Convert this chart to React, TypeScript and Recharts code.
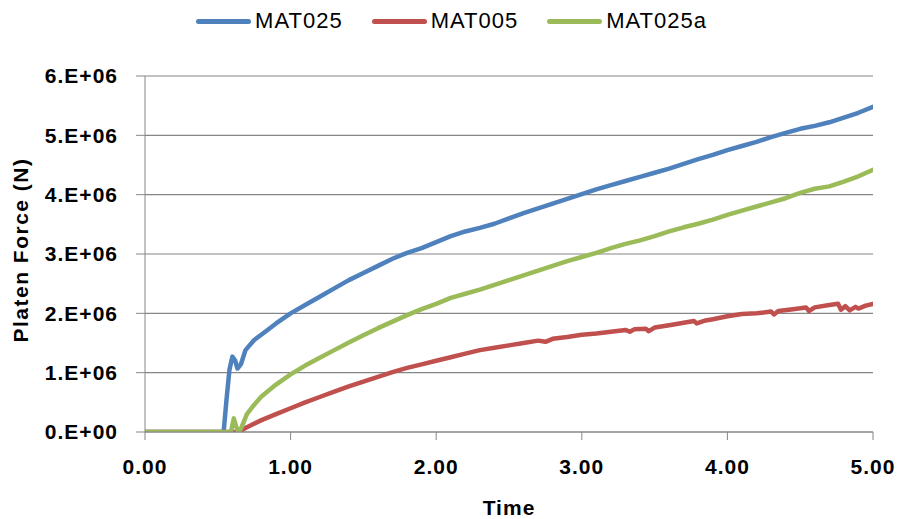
import React from "react";
import {
  LineChart,
  Line,
  XAxis,
  YAxis,
  CartesianGrid,
  Legend,
} from "recharts";

// time (s) / platen force (x1e6 N)
const mat025Time = [
  0, 0.54, 0.56, 0.58, 0.6, 0.62, 0.635, 0.66, 0.69, 0.75, 0.81, 0.9, 1.0,
  1.1, 1.2, 1.3, 1.4, 1.5, 1.6, 1.7, 1.8, 1.9, 2.0, 2.1, 2.2, 2.3, 2.4, 2.5,
  2.6, 2.7, 2.8, 2.9, 3.0, 3.1, 3.2, 3.3, 3.4, 3.5, 3.6, 3.7, 3.8, 3.9, 4.0,
  4.1, 4.2, 4.3, 4.4, 4.5, 4.6, 4.7, 4.8, 4.9, 5.0,
];
const mat025Force = [
  0, 0, 0.55, 1.05, 1.27, 1.2, 1.07, 1.15, 1.38, 1.55, 1.66, 1.83, 2.0,
  2.14, 2.28, 2.42, 2.56, 2.68, 2.8, 2.92, 3.02, 3.1, 3.2, 3.3, 3.38, 3.44,
  3.51, 3.6, 3.69, 3.77, 3.85, 3.93, 4.01, 4.09, 4.16, 4.23, 4.3, 4.37, 4.44,
  4.52, 4.6, 4.67, 4.75, 4.82, 4.89, 4.97, 5.04, 5.11, 5.16, 5.22, 5.3, 5.38,
  5.48,
];

const mat005Time = [
  0, 0.64, 0.7, 0.8, 0.9, 1.0, 1.1, 1.2, 1.3, 1.4, 1.5, 1.6, 1.7, 1.8, 1.9,
  2.0, 2.1, 2.2, 2.3, 2.4, 2.5, 2.6, 2.7, 2.75, 2.8, 2.9, 3.0, 3.1, 3.2, 3.3,
  3.33, 3.36, 3.44, 3.46, 3.5, 3.6, 3.7, 3.77, 3.79, 3.85, 3.9, 4.0, 4.1,
  4.2, 4.3, 4.32, 4.35, 4.45, 4.54, 4.56, 4.6, 4.7, 4.76, 4.78, 4.81, 4.84,
  4.88, 4.9, 4.95, 5.0,
];
const mat005Force = [
  0, 0, 0.08, 0.2, 0.3, 0.4, 0.5, 0.59, 0.68, 0.77, 0.85, 0.93, 1.01, 1.08,
  1.14, 1.2, 1.26, 1.32, 1.38, 1.42, 1.46, 1.5, 1.54, 1.52, 1.57, 1.6, 1.64,
  1.66, 1.69, 1.72, 1.69, 1.73, 1.74, 1.7, 1.76, 1.8, 1.84, 1.87, 1.83,
  1.88, 1.9, 1.95, 1.99, 2.0, 2.03, 1.98, 2.04, 2.07, 2.1, 2.04, 2.1, 2.14,
  2.16, 2.06, 2.12, 2.05, 2.11, 2.08, 2.13, 2.16,
];

const mat025aTime = [
  0, 0.59, 0.61, 0.625, 0.64, 0.66, 0.7, 0.74, 0.8, 0.9, 1.0, 1.1, 1.2, 1.3,
  1.4, 1.5, 1.6, 1.7, 1.8, 1.9, 2.0, 2.1, 2.2, 2.3, 2.4, 2.5, 2.6, 2.7, 2.8,
  2.9, 3.0, 3.1, 3.2, 3.3, 3.4, 3.5, 3.6, 3.7, 3.8, 3.9, 4.0, 4.1, 4.2, 4.3,
  4.4, 4.5, 4.6, 4.7, 4.8, 4.9, 5.0,
];
const mat025aForce = [
  0, 0, 0.23, 0.1, 0, 0.06, 0.3, 0.43, 0.6, 0.8, 0.97, 1.12, 1.25, 1.38,
  1.51, 1.63, 1.75, 1.86, 1.97, 2.07, 2.16, 2.26, 2.33, 2.4, 2.48, 2.56,
  2.64, 2.72, 2.8, 2.88, 2.95, 3.02, 3.1, 3.17, 3.23, 3.3, 3.38, 3.45, 3.51,
  3.58, 3.66, 3.73, 3.8, 3.87, 3.94, 4.03, 4.1, 4.14, 4.22, 4.31, 4.42,
];

const xTicks = [0, 1, 2, 3, 4, 5];
const yTicks = [0, 1e6, 2e6, 3e6, 4e6, 5e6, 6e6];

const toRows = (time: number[], force: number[]) =>
  time.map((t, i) => ({ time: t, force: force[i] * 1e6 }));

const series = [
  { name: "MAT025", color: "#4F81BD", data: toRows(mat025Time, mat025Force) },
  { name: "MAT005", color: "#C0504D", data: toRows(mat005Time, mat005Force) },
  { name: "MAT025a", color: "#9BBB59", data: toRows(mat025aTime, mat025aForce) },
];

const FONT = '"Liberation Sans", Arial, sans-serif';
const AXIS = "#868686";

const tickStyle = {
  fontFamily: FONT,
  fontSize: 21,
  fontWeight: 700,
  fill: "#000",
  letterSpacing: 1,
};

const formatForce = (v: number) =>
  v === 0 ? "0.E+00" : `${Math.round(v / 1e6)}.E+06`;

// legend keeps the series order (recharts sorts its payload by name)
function LegendBox() {
  return (
    <div
      style={{
        height: 76,
        paddingTop: 8,
        paddingLeft: 30,
        boxSizing: "border-box",
      }}
    >
      <div
        style={{
          display: "flex",
          justifyContent: "center",
          alignItems: "center",
          height: 26,
          fontFamily: FONT,
          fontSize: 22,
          letterSpacing: 1,
          color: "#000",
        }}
      >
        {series.map((s, i) => (
          <div
            key={s.name}
            style={{
              display: "flex",
              alignItems: "center",
              marginLeft: i === 0 ? 0 : 29,
            }}
          >
            <span
              style={{
                display: "inline-block",
                width: 55,
                height: 5,
                borderRadius: 3,
                background: s.color,
                marginRight: 4,
              }}
            />
            <span>{s.name}</span>
          </div>
        ))}
      </div>
    </div>
  );
}

export default function App() {
  return (
    <div style={{ position: "absolute", left: 0, top: 0, background: "#fff" }}>
      <LineChart
        width={897}
        height={519}
        margin={{ top: 0, right: 24, bottom: 0, left: 0 }}
      >
        <CartesianGrid vertical={false} stroke={AXIS} strokeWidth={1.2} />
        <XAxis
          type="number"
          dataKey="time"
          domain={[0, 5]}
          ticks={xTicks}
          tickFormatter={(v: number) => v.toFixed(2)}
          height={87}
          tickSize={8}
          tickMargin={19}
          stroke={AXIS}
          tick={tickStyle}
          allowDataOverflow
          label={(p: any) => {
            const vb = p.viewBox || {};
            return (
              <text
                x={vb.x + vb.width / 2}
                y={515}
                textAnchor="middle"
                style={{ ...tickStyle }}
              >
                Time
              </text>
            );
          }}
        />
        <YAxis
          type="number"
          domain={[0, 6e6]}
          ticks={yTicks}
          tickFormatter={formatForce}
          width={145}
          tickSize={9}
          tickMargin={18}
          stroke={AXIS}
          tick={tickStyle}
          allowDataOverflow
          label={(p: any) => {
            const vb = p.viewBox || {};
            const cy = vb.y + vb.height / 2 - 4;
            return (
              <text
                x={28}
                y={cy}
                textAnchor="middle"
                transform={`rotate(-90, 28, ${cy})`}
                style={{ ...tickStyle, letterSpacing: 1.5 }}
              >
                Platen Force (N)
              </text>
            );
          }}
        />
        <Legend verticalAlign="top" align="center" content={<LegendBox />} />
        {series.map((s) => (
          <Line
            key={s.name}
            name={s.name}
            data={s.data}
            dataKey="force"
            type="linear"
            stroke={s.color}
            strokeWidth={4.5}
            strokeLinejoin="round"
            strokeLinecap="round"
            dot={false}
            activeDot={false}
            isAnimationActive={false}
            legendType="line"
          />
        ))}
      </LineChart>
    </div>
  );
}
